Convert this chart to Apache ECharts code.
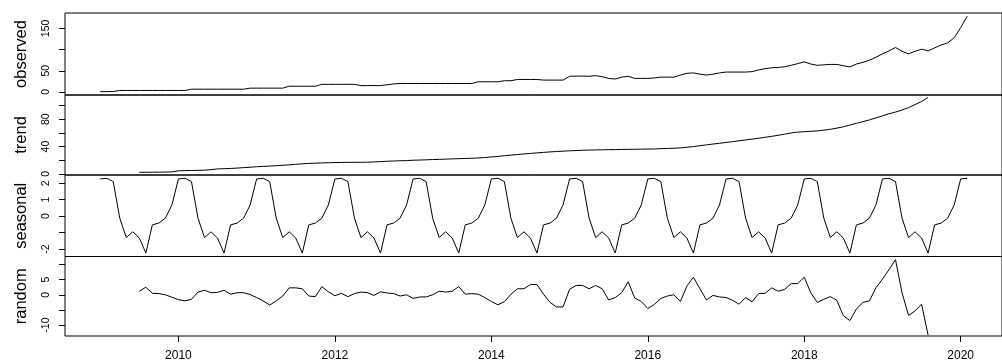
<!DOCTYPE html>
<html><head><meta charset="utf-8">
<script src="https://cdn.jsdelivr.net/npm/echarts@6/dist/echarts.min.js"></script>
<style>html,body{margin:0;padding:0;background:#fff}#c{width:1002px;height:362px}</style>
</head><body><div id="c"></div>
<script>
// ---- data ----
const startYear = 2009;
const frequency = 12;
const componentStartMonth = 6; // trend & random begin 6 months after the series
const panelNames = ['observed', 'trend', 'seasonal', 'random'];

const observed = [
  0.8, 0.8, 1.0, 3.5, 3.5, 3.5,
  3.5, 3.5, 3.5, 3.5, 3.5, 3.5,
  3.5, 3.5, 6.5, 6.5, 6.5, 6.5,
  6.5, 6.5, 6.5, 6.5, 6.5, 9.0,
  9.0, 9.0, 9.0, 9.0, 9.0, 13.5,
  13.5, 13.5, 13.5, 13.5, 18.0, 18.0,
  18.0, 18.0, 18.0, 18.0, 15.0, 15.0,
  15.0, 15.0, 17.0, 19.0, 20.0, 20.0,
  20.0, 20.0, 20.0, 20.0, 20.0, 20.0,
  20.0, 20.0, 20.0, 20.0, 24.0, 24.0,
  24.0, 24.0, 26.5, 26.5, 29.5, 29.5,
  29.5, 29.5, 28.0, 28.0, 28.0, 28.0,
  37.0, 37.5, 37.5, 37.0, 38.5, 36.0,
  32.0, 30.5, 35.0, 37.0, 32.0, 32.0,
  32.0, 33.0, 35.0, 35.0, 35.0, 40.0,
  44.0, 45.0, 42.0, 40.0, 42.0, 45.0,
  47.0, 47.0, 47.0, 47.0, 48.0, 52.0,
  55.0, 57.0, 58.0, 59.5, 63.0, 67.0,
  71.0, 66.0, 63.0, 64.0, 65.0, 65.0,
  62.0, 59.0, 66.0, 70.0, 75.0, 82.0,
  90.0, 97.0, 105.0, 96.0, 90.0, 96.0,
  101.0, 97.0, 104.0, 111.0, 116.0, 128.0,
  152.0, 179.0
];

const trend = [
  2.4, 2.4, 2.5, 2.6, 2.7, 2.9,
  4.5, 4.8, 5.0, 5.2, 5.5, 6.2,
  7.3, 7.6, 8.0, 8.5, 9.2, 9.8,
  10.5, 11.0, 11.5, 12.0, 12.6, 13.3,
  14.0, 14.8, 15.4, 15.7, 16.0, 16.3,
  16.6, 16.8, 16.9, 17.0, 17.0, 17.1,
  17.5, 18.0, 18.5, 18.9, 19.2, 19.5,
  20.0, 20.3, 20.6, 21.0, 21.3, 21.6,
  22.0, 22.3, 22.6, 22.9, 23.3, 24.0,
  24.8, 25.6, 26.6, 27.5, 28.4, 29.2,
  30.0, 30.8, 31.5, 32.2, 32.8, 33.3,
  33.8, 34.2, 34.6, 34.9, 35.1, 35.3,
  35.5, 35.6, 35.8, 35.9, 36.1, 36.2,
  36.4, 36.5, 37.0, 37.3, 37.6, 38.0,
  39.0, 40.0, 41.3, 42.5, 43.7, 44.8,
  46.0, 47.2, 48.5, 49.7, 50.9, 52.2,
  53.6, 55.0, 56.5, 58.2, 60.0, 61.2,
  61.8, 62.3, 63.0, 64.0, 65.3, 67.0,
  69.0, 71.5, 74.0, 76.5, 79.0, 82.0,
  85.0, 88.0, 90.5, 93.5, 97.0, 101.5,
  106.0, 112.0
];

const seasonal = [
  2.26, 2.30, 2.10, -0.12, -1.30, -0.95, -1.33, -2.24, -0.53, -0.42, -0.12, 0.68,
  2.26, 2.30, 2.10, -0.12, -1.30, -0.95, -1.33, -2.24, -0.53, -0.42, -0.12, 0.68,
  2.26, 2.30, 2.10, -0.12, -1.30, -0.95, -1.33, -2.24, -0.53, -0.42, -0.12, 0.68,
  2.26, 2.30, 2.10, -0.12, -1.30, -0.95, -1.33, -2.24, -0.53, -0.42, -0.12, 0.68,
  2.26, 2.30, 2.10, -0.12, -1.30, -0.95, -1.33, -2.24, -0.53, -0.42, -0.12, 0.68,
  2.26, 2.30, 2.10, -0.12, -1.30, -0.95, -1.33, -2.24, -0.53, -0.42, -0.12, 0.68,
  2.26, 2.30, 2.10, -0.12, -1.30, -0.95, -1.33, -2.24, -0.53, -0.42, -0.12, 0.68,
  2.26, 2.30, 2.10, -0.12, -1.30, -0.95, -1.33, -2.24, -0.53, -0.42, -0.12, 0.68,
  2.26, 2.30, 2.10, -0.12, -1.30, -0.95, -1.33, -2.24, -0.53, -0.42, -0.12, 0.68,
  2.26, 2.30, 2.10, -0.12, -1.30, -0.95, -1.33, -2.24, -0.53, -0.42, -0.12, 0.68,
  2.26, 2.30, 2.10, -0.12, -1.30, -0.95, -1.33, -2.24, -0.53, -0.42, -0.12, 0.68,
  2.26, 2.30
];

const random = [
  1.2, 2.5, 0.5, 0.4, 0.0, -0.8,
  -1.6, -2.0, -1.5, 0.9, 1.5, 0.7,
  0.8, 1.5, 0.2, 0.7, 0.7, 0.1,
  -0.9, -2.0, -3.4, -2.0, -0.4, 2.3,
  2.3, 2.0, -0.4, -0.6, 2.7, 1.0,
  -0.3, 0.5, -0.6, 0.4, 0.9, 0.7,
  -0.2, 1.0, 0.6, 0.4, -0.4, 0.0,
  -1.2, -0.7, -0.7, 0.0, 1.2, 0.9,
  1.2, 2.7, 0.2, 0.4, 0.2, -0.9,
  -2.2, -3.3, -2.3, 0.2, 2.0, 2.0,
  3.4, 3.4, 0.2, -2.5, -4.0, -4.0,
  1.8, 3.1, 3.1, 2.0, 3.1, 2.0,
  -1.7, -0.9, 0.7, 4.3, -1.1, -2.2,
  -4.5, -3.2, -1.2, -0.4, 0.0, -2.2,
  2.9, 5.8, 2.0, -1.7, -0.2, -0.7,
  -0.9, -1.8, -3.1, -0.9, -2.3, 0.4,
  0.5, 2.3, 1.2, 1.8, 3.7, 3.7,
  5.8, 0.7, -2.5, -1.5, -0.6, -1.8,
  -6.9, -8.5, -4.7, -2.5, -2.0, 2.3,
  5.2, 8.3, 11.6, 0.7, -6.8, -5.3,
  -3.1, -13.3
];

const xTickYears = [2010, 2012, 2014, 2016, 2018, 2020];
const observedTicks = [0, 50, 100, 150];
const observedLabels = [0, 50, 150];
const trendTicks = [0, 20, 40, 60, 80, 100];
const trendLabels = [0, 40, 80];
const seasonalTicks = [-2, -1, 0, 1, 2];
const seasonalLabels = [-2, 0, 1, 2];
const randomTicks = [-10, -5, 0, 5, 10];
const randomLabels = [-10, 0, 5];

// ---- build ----
function toPairs(values, offset) {
  return values.map((v, i) => [startYear + (i + offset) / frequency, v]);
}
const seriesData = [
  toPairs(observed, 0),
  toPairs(trend, componentStartMonth),
  toPairs(seasonal, 0),
  toPairs(random, componentStartMonth)
];
const tickSets = [observedTicks, trendTicks, seasonalTicks, randomTicks];
const labelSets = [observedLabels, trendLabels, seasonalLabels, randomLabels];

const FONT = 'Liberation Sans, Arial, sans-serif';
const tops = [13, 95, 175, 256.5];
const heights = [82, 80, 81.5, 81];
const yRanges = [[-7.2, 186.5], [-1.6, 115.5], [-2.45, 2.5], [-13.6, 12.65]];
const xMin = 2008.55, xMax = 2020.528;

const grid = tops.map((t, i) => ({
  left: 65, top: t, width: 949, height: heights[i],
  show: true, borderColor: '#000', borderWidth: 1, backgroundColor: 'transparent'
}));

const xAxis = tops.map((t, i) => {
  const last = i === tops.length - 1;
  return {
    gridIndex: i, type: 'value', min: xMin, max: xMax, position: 'bottom',
    show: last,
    axisLine: { show: false, onZero: false },
    splitLine: { show: false },
    axisTick: { show: last, customValues: xTickYears, length: 6, lineStyle: { color: '#000', width: 1 } },
    axisLabel: { show: last, customValues: xTickYears, margin: 14, fontSize: 12, color: '#000', fontFamily: FONT,
      formatter: v => String(Math.round(v)) }
  };
});

const yAxis = tops.map((t, i) => ({
  gridIndex: i, type: 'value', min: yRanges[i][0], max: yRanges[i][1], position: 'left',
  name: panelNames[i], nameLocation: 'middle', nameRotate: 90, nameGap: 35,
  nameTextStyle: { fontSize: 16.5, color: '#000', fontFamily: FONT },
  axisLine: { show: false, onZero: false },
  splitLine: { show: false },
  axisTick: { show: true, customValues: tickSets[i], length: 6, lineStyle: { color: '#000', width: 1 } },
  axisLabel: { show: true, customValues: labelSets[i], rotate: 90, margin: 13, fontSize: 10.5, color: '#000', fontFamily: FONT,
    formatter: v => String(v) }
}));

const series = seriesData.map((d, i) => ({
  type: 'line', xAxisIndex: i, yAxisIndex: i, data: d,
  showSymbol: false, symbol: 'none', silent: true,
  lineStyle: { color: '#000', width: 1 }
}));

const chart = echarts.init(document.getElementById('c'), null, { renderer: 'canvas' });
chart.setOption({ animation: false, backgroundColor: '#fff', grid, xAxis, yAxis, series });
</script>
</body></html>
